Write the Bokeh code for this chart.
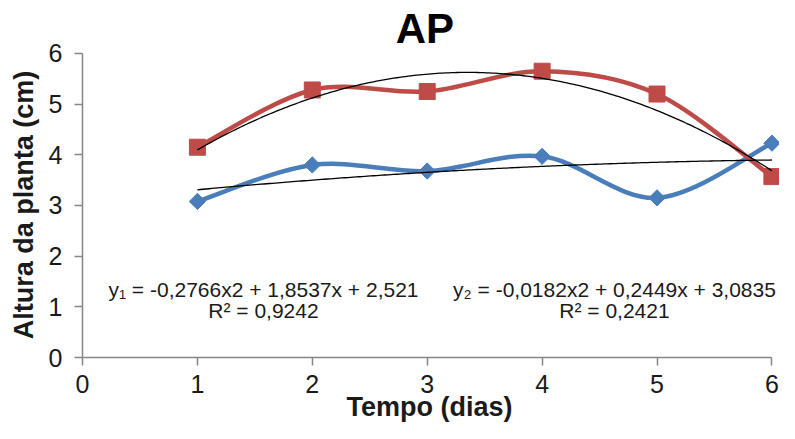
import numpy as np
from bokeh.plotting import figure
from bokeh.models import Range1d, FixedTicker, Label
from bokeh.embed import file_html
from bokeh.resources import INLINE

# ---- data ----
dias = [1, 2, 3, 4, 5, 6]
serie1 = [3.08, 3.80, 3.68, 3.97, 3.15, 4.23]   # blue diamonds
serie2 = [4.15, 5.28, 5.25, 5.65, 5.20, 3.57]   # red squares
coef1 = [-0.2766, 1.8537, 2.521]    # red trend  y1
coef2 = [-0.0182, 0.2449, 3.0835]   # blue trend y2
eq_text = ["y\u2081 = -0,2766x2 + 1,8537x + 2,521", "R\u00b2 = 0,9242",
           "y\u2082 = -0,0182x2 + 0,2449x + 3,0835", "R\u00b2 = 0,2421"]
ticks = [0, 1, 2, 3, 4, 5, 6]
titulo = "AP"
x_label = "Tempo (dias)"
y_label = "Altura da planta (cm)"

BLUE = "#4A7EBB"
RED = "#BE4B48"
FONT = "Liberation Sans"
TXT = "#1a1a1a"

# the frame fills the whole canvas; axes are drawn at fixed data locations
p = figure(width=779, height=423, output_backend="svg", toolbar_location=None,
           x_range=Range1d(-0.7137, 6.066), y_range=Range1d(-1.3026, 7.046),
           min_border_left=0, min_border_right=0, min_border_top=0, min_border_bottom=0)
p.background_fill_color = "white"
p.border_fill_color = "white"
p.outline_line_color = None
p.grid.visible = False

for ax in (p.xaxis[0], p.yaxis[0]):
    ax.fixed_location = 0
    ax.ticker = FixedTicker(ticks=ticks)
    ax.bounds = (0, 6)
    ax.axis_line_color = "#868686"
    ax.axis_line_width = 1.5
    ax.major_tick_line_color = "#868686"
    ax.major_tick_line_width = 1.5
    ax.major_tick_out = 8
    ax.major_tick_in = 0
    ax.minor_tick_line_color = None
    ax.major_label_text_font = FONT
    ax.major_label_text_font_size = "25px"
    ax.major_label_text_color = TXT
p.xaxis.major_label_standoff = 9
p.yaxis.major_label_standoff = 12


def smooth(xs, ys):
    P = np.column_stack([xs, ys]).astype(float)
    n = len(P)
    seg = {k: [] for k in ("x0", "y0", "x1", "y1", "cx0", "cy0", "cx1", "cy1")}
    for i in range(n - 1):
        p0 = P[max(i - 1, 0)]
        p1 = P[i]
        p2 = P[i + 1]
        p3 = P[min(i + 2, n - 1)]
        c1 = p1 + (p2 - p0) / 6.0
        c2 = p2 - (p3 - p1) / 6.0
        seg["x0"].append(p1[0]); seg["y0"].append(p1[1])
        seg["x1"].append(p2[0]); seg["y1"].append(p2[1])
        seg["cx0"].append(c1[0]); seg["cy0"].append(c1[1])
        seg["cx1"].append(c2[0]); seg["cy1"].append(c2[1])
    return seg


for ys, col, size, ang in ((serie1, BLUE, 11.5, np.pi / 4),
                           (serie2, RED, 16, 0)):
    s = smooth(dias, ys)
    p.bezier(x0=s["x0"], y0=s["y0"], x1=s["x1"], y1=s["y1"],
             cx0=s["cx0"], cy0=s["cy0"], cx1=s["cx1"], cy1=s["cy1"],
             line_color=col, line_width=4.5, line_cap="round")
    p.scatter(dias, ys, marker="square", size=size, angle=ang,
              fill_color=col, line_color=col)

# trend lines from displayed coefficients
xt = np.linspace(dias[0], dias[-1], 200)
for c in (coef1, coef2):
    p.line(xt, np.polyval(c, xt), line_color="black", line_width=1.3)

eq_pos = [(1.575, 1.35), (1.575, 0.935), (4.63, 1.35), (4.63, 0.935)]
for t, (ex, ey) in zip(eq_text, eq_pos):
    p.add_layout(Label(x=ex, y=ey, text=t, text_font=FONT, text_font_size="21px",
                       text_align="center", text_baseline="middle", text_color=TXT))

# chart title and axis titles
p.add_layout(Label(x=2.98, y=6.49, text=titulo, text_font=FONT, text_font_size="42px",
                   text_font_style="bold", text_align="center",
                   text_baseline="alphabetic", text_color="#000000"))
p.add_layout(Label(x=3.02, y=-0.985, text=x_label, text_font=FONT, text_font_size="27px",
                   text_font_style="bold", text_align="center",
                   text_baseline="alphabetic", text_color=TXT))
p.add_layout(Label(x=-0.513, y=3.01, text=y_label, text_font=FONT, text_font_size="27px",
                   text_font_style="bold", text_align="center", angle=np.pi / 2,
                   text_baseline="middle", text_color=TXT))

open("out.html", "w").write(file_html(p, INLINE))
